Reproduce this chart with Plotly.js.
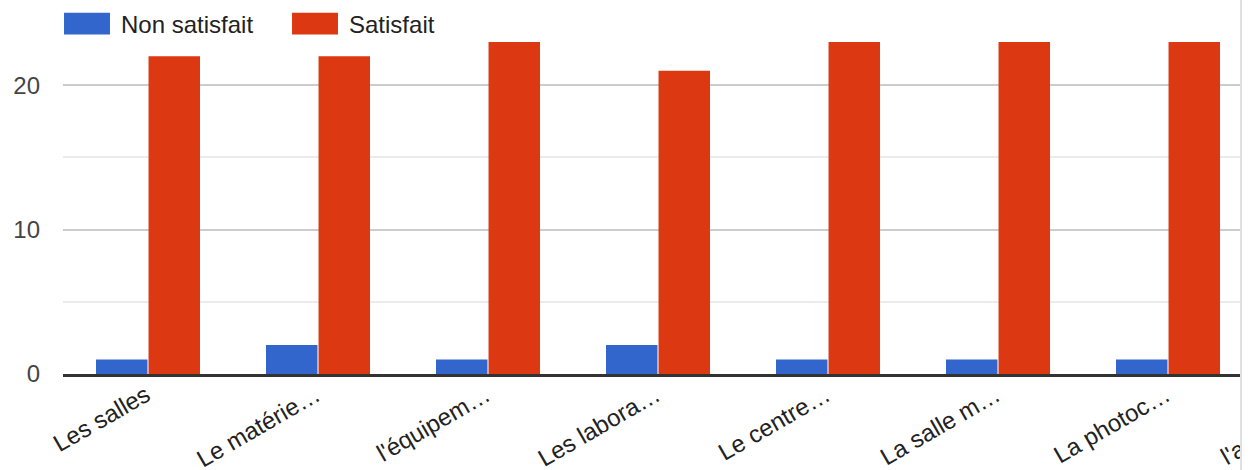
<!DOCTYPE html>
<html>
<head>
<meta charset="utf-8">
<script src="https://cdn.plot.ly/plotly-3.0.1.min.js"></script>
<style>
  html, body { margin: 0; padding: 0; background: #fff; }
  #wrap { position: absolute; left: 0; top: 0; width: 1240px; height: 470px; overflow: hidden; border-right: 2px solid #e0e0e0; }
  #chart { width: 1433px; height: 470px; }
  .legend .legendpoints path { transform: translate(34px, 0px) scale(3.83, 1.83); }
</style>
</head>
<body>
<div id="wrap"><div id="chart"></div></div>
<script>
// Data
const categories = ["Les salles", "Le matérie…", "l'équipem…", "Les labora…", "Le centre…", "La salle m…", "La photoc…", "l'amphithé…"];
const nonSatisfait = [1, 2, 1, 2, 1, 1, 1, 1];
const satisfait = [22, 22, 23, 21, 23, 23, 23, 23];
const seriesNames = ["Non satisfait", "Satisfait"];
const yTicks = [0, 10, 20];

const FONT = '"Liberation Sans", Arial, sans-serif';

const traces = [
  { type: 'bar', name: seriesNames[0], x: categories, y: nonSatisfait,
    marker: { color: '#3366cc', line: { width: 0 } }, hoverinfo: 'x+y+name' },
  { type: 'bar', name: seriesNames[1], x: categories, y: satisfait,
    marker: { color: '#dc3912', line: { width: 0 } }, hoverinfo: 'x+y+name' }
];

const layout = {
  width: 1433, height: 470,
  margin: { l: 63, r: 10, t: 13, b: 96, pad: 0, autoexpand: false },
  paper_bgcolor: '#fff', plot_bgcolor: '#fff',
  barmode: 'group', bargap: 0.382, bargroupgap: 0.02,
  font: { family: FONT, size: 24, color: '#222' },
  showlegend: true,
  legend: {
    orientation: 'h', x: -0.00735, xanchor: 'left', y: 0.9695, yanchor: 'middle',
    bgcolor: 'rgba(0,0,0,0)', borderwidth: 0, itemwidth: 58,
    entrywidthmode: 'pixels', entrywidth: 155,
    font: { family: FONT, size: 24, color: '#222' },
    traceorder: 'normal', itemclick: false, itemdoubleclick: false
  },
  xaxis: {
    type: 'category', showgrid: false, zeroline: false,
    showline: true, linecolor: '#333', linewidth: 3,
    ticks: '', tickangle: -30, ticklabelstandoff: -5, ticklabelshift: -2,
    tickfont: { family: FONT, size: 24, color: '#222' },
    fixedrange: true
  },
  yaxis: {
    range: [0, 25], tickvals: yTicks, ticktext: yTicks.map(String),
    showgrid: true, gridcolor: '#cccccc', gridwidth: 2,
    minor: { dtick: 5, showgrid: true, gridcolor: '#ebebeb', gridwidth: 2, ticks: '' },
    zeroline: false, showline: false, ticks: '',
    ticklabelstandoff: 22,
    tickfont: { family: FONT, size: 24, color: '#444' },
    fixedrange: true
  }
};

Plotly.newPlot('chart', traces, layout, { displayModeBar: false, staticPlot: true });
</script>
</body>
</html>
